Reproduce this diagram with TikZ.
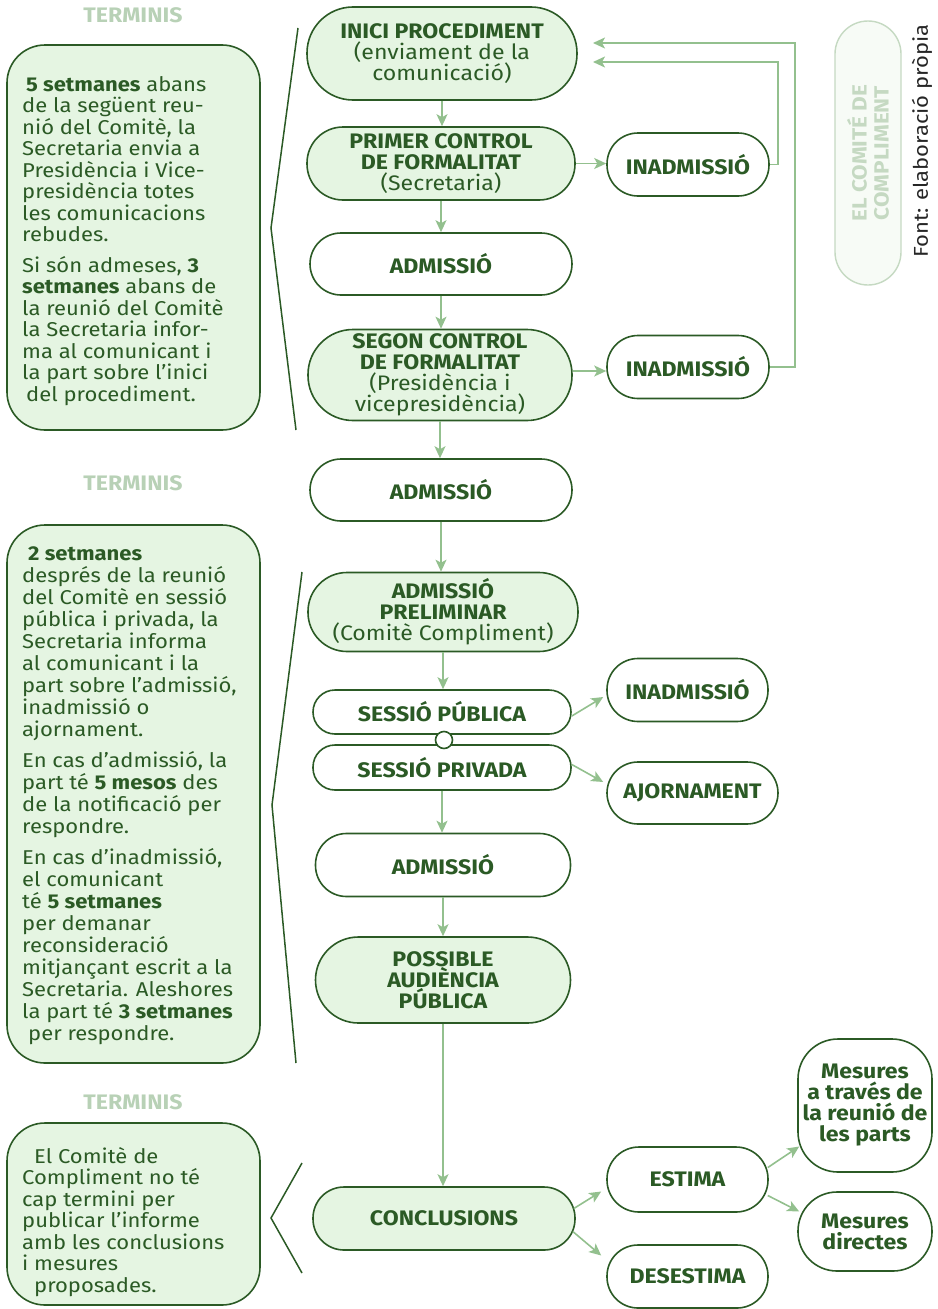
\documentclass[tikz,border=0pt]{standalone}
\usepackage{fontspec}
\setmainfont[FakeStretch=1.1]{Fira Sans}
\usetikzlibrary{arrows.meta,calc}
\definecolor{dg}{HTML}{2B5A25}
\definecolor{lg}{HTML}{E5F5E2}
\definecolor{ag}{HTML}{93C08E}
\definecolor{tg}{HTML}{B8D1B6}
\definecolor{cg}{HTML}{C5D9C2}
\definecolor{cf}{HTML}{F7FBF6}
\tikzset{
  box/.style={draw=dg, line width=1.6pt, rectangle, text=dg, align=center, inner sep=0pt,
    font=\fontsize{21}{21}\selectfont},
  stage/.style={box, fill=lg},
  plain/.style={box, fill=white},
  sz/.style n args={3}{minimum width=#1pt, minimum height=#2pt, rounded corners=#3pt},
  arr/.style={draw=ag, line width=1.6pt, -{Stealth[length=12pt,width=11pt,inset=3pt]}},
  brk/.style={draw=dg, line width=1.5pt},
  termin/.style={text=tg, font=\bfseries\fontsize{21}{22}\selectfont},
  lefttxt/.style={anchor=north west, align=left, inner sep=0pt, text=dg,
    font=\fontsize{20}{21.5}\selectfont},
  leftbox/.style={draw=dg, line width=1.6pt, fill=lg, rounded corners=38pt},
}
\begin{document}
\begin{tikzpicture}[x=1pt,y=-1pt]
\path[use as bounding box] (0,0) rectangle (937,1309);

% ---------- left boxes ----------
\node[termin] (t1) at (133,15) {TERMINIS};
\node[leftbox, minimum width=253pt, minimum height=385pt] (b1) at (133.5,237.5) {};
\node[lefttxt] (tx1) at (22,76) {\hspace{4pt}{\bfseries 5 setmanes} abans\\
de la següent reu-\\
nió del Comitè, la\\
Secretaria envia a\\
Presidència i Vice-\\
presidència totes\\
les comunicacions\\
rebudes.\\[9pt]
Si són admeses, {\bfseries 3}\\
{\bfseries setmanes} abans de\\
la reunió del Comitè\\
la Secretaria infor-\\
ma al comunicant i\\
la part sobre l'inici\\
\hspace{4pt}del procediment.};
\draw[brk] (298,28) -- (271,228) -- (296,430);

\node[termin] (t2) at (133,483) {TERMINIS};
\node[leftbox, minimum width=253pt, minimum height=538pt] (b2) at (133.5,794) {};
\node[lefttxt, font=\fontsize{20}{22}\selectfont] (tx2) at (22,546) {\hspace{6pt}{\bfseries 2 setmanes}\\
després de la reunió\\
del Comitè en sessió\\
pública i privada, la\\
Secretaria informa\\
al comunicant i la\\
part sobre l'admissió,\\
inadmissió o\\
ajornament.\\[9pt]
En cas d'admissió, la\\
part té {\bfseries 5 mesos} des\\
de la notificació per\\
respondre.\\[9pt]
En cas d'inadmissió,\\
el comunicant\\
té {\bfseries 5 setmanes}\\
per demanar\\
reconsideració\\
mitjançant escrit a la\\
Secretaria. Aleshores\\
la part té {\bfseries 3 setmanes}\\
\hspace{6pt}per respondre.};
\draw[brk] (302,572) -- (272,805) -- (296,1063);

\node[termin] (t3) at (133,1102) {TERMINIS};
\node[leftbox, minimum width=253pt, minimum height=182pt] (b3) at (133.5,1214) {};
\node[lefttxt] (tx3) at (22,1147) {\hspace{12pt}El Comitè de\\
Compliment no té\\
cap termini per\\
publicar l'informe\\
amb les conclusions\\
i mesures\\
\hspace{12pt}proposades.};
\draw[brk] (302,1163) -- (271,1218) -- (302,1273);

% ---------- central column ----------
\node[stage, sz={270}{93}{46}] (inici) at (442,53.5)
  {{\bfseries INICI PROCEDIMENT}\\(enviament de la\\comunicació)};
\node[stage, sz={268}{73}{36}] (primer) at (441,163.5)
  {{\bfseries PRIMER CONTROL}\\{\bfseries DE FORMALITAT}\\(Secretaria)};
\node[plain, sz={262}{62}{31}] (adm1) at (441,264) {\bfseries ADMISSIÓ};
\node[stage, sz={264}{91}{45}] (segon) at (440,375)
  {{\bfseries SEGON CONTROL}\\{\bfseries DE FORMALITAT}\\(Presidència i\\vicepresidència)};
\node[plain, sz={262}{62}{31}] (adm2) at (441,490) {\bfseries ADMISSIÓ};
\node[stage, sz={270}{79}{39}] (prel) at (443,612)
  {{\bfseries ADMISSIÓ}\\{\bfseries PRELIMINAR}\\(Comitè Compliment)};
\node[plain, sz={258}{44}{22}] (spub) at (442,712) {\bfseries SESSIÓ PÚBLICA};
\node[plain, sz={258}{45}{22}] (spriv) at (442,767.5) {\bfseries SESSIÓ PRIVADA};
\node[draw=dg, line width=1.6pt, fill=white, circle, minimum size=17pt, inner sep=0pt] (dot) at (444,740) {};
\node[plain, sz={255}{63}{31}] (adm3) at (443,865) {\bfseries ADMISSIÓ};
\node[stage, sz={255}{86}{43}] (poss) at (443,980)
  {\bfseries POSSIBLE\\\bfseries AUDIÈNCIA\\\bfseries PÚBLICA};
\node[stage, sz={262}{63}{31}] (conc) at (444,1218.5) {\bfseries CONCLUSIONS};

% ---------- right column ----------
\node[plain, sz={162}{63}{31}] (inad1) at (688,164.5) {\bfseries INADMISSIÓ};
\node[plain, sz={162}{63}{31}] (inad2) at (688,367) {\bfseries INADMISSIÓ};
\node[plain, sz={161}{63}{31}] (inad3) at (687.5,690) {\bfseries INADMISSIÓ};
\node[plain, sz={171}{62}{31}] (ajor) at (692.5,793) {\bfseries AJORNAMENT};
\node[plain, sz={161}{65}{32}] (estima) at (687.5,1179.5) {\bfseries ESTIMA};
\node[plain, sz={161}{63}{31}] (desest) at (687.5,1276.5) {\bfseries DESESTIMA};
\node[plain, sz={134}{133}{40}] (mes1) at (865,1105.5)
  {\bfseries Mesures\\\bfseries a través de\\\bfseries la reunió de\\\bfseries les parts};
\node[plain, sz={134}{79}{39}] (mes2) at (865,1231.5)
  {\bfseries Mesures\\\bfseries directes};

% comite label
\node[draw=cg, line width=1.4pt, fill=cf, minimum width=66pt, minimum height=264pt,
  rounded corners=33pt] (comite) at (868,153) {};
\node[rotate=90, text=cg, align=center, inner sep=0pt,
  font=\bfseries\fontsize{20.5}{22}\selectfont] (comtxt) at (comite.center) {EL COMITÉ DE\\COMPLIMENT};
\node[rotate=90, text=black!85, inner sep=0pt, font=\fontsize{20}{20}\selectfont] (font) at (922,141) {Font: elaboració pròpia};

% ---------- connectors ----------
\draw[arr] (inici.south) -- (inici.south |- primer.north);
\draw[arr] (primer.south) -- (primer.south |- adm1.north);
\draw[arr] (adm1.south) -- (adm1.south |- segon.north);
\draw[arr] (segon.south) -- (segon.south |- adm2.north);
\draw[arr] (adm2.south) -- (adm2.south |- prel.north);
\draw[arr] (prel.south) -- (prel.south |- spub.north);
\draw[arr] (spriv.south) -- (spriv.south |- adm3.north);
\draw[arr] (adm3.south) -- (adm3.south |- poss.north);
\draw[arr] (poss.south) -- (poss.south |- conc.north);

\draw[arr] (primer.east) -- (primer.east -| inad1.west);
\draw[arr] ($(segon.east)+(0,-4)$) -- ($(segon.east -| inad2.west)+(0,-4)$);

\coordinate (f1) at (593,62);
\coordinate (f2) at (593,43);
\draw[arr] (inad1.east) -- ++(8,0) |- (f1);
\draw[arr] (inad2.east) -- ++(25,0) |- (f2);

\draw[arr] ($(spub.east)+(0,4)$) -- ($(inad3.west)+(-3,7)$);
\draw[arr] ($(spriv.east)+(0,-3)$) -- ($(ajor.west)+(-3,-11)$);

\draw[arr] ($(conc.east)+(-2,-10)$) -- ($(estima.west)+(-5,12)$);
\draw[arr] ($(conc.east)+(-3,13)$) -- ($(desest.west)+(-5,-21)$);
\draw[arr] ($(estima.east)+(-1,-12)$) -- ($(mes1.west)+(2,41)$);
\draw[arr] ($(estima.east)+(-1,16)$) -- ($(mes2.west)+(2,-20)$);
\end{tikzpicture}
\end{document}
